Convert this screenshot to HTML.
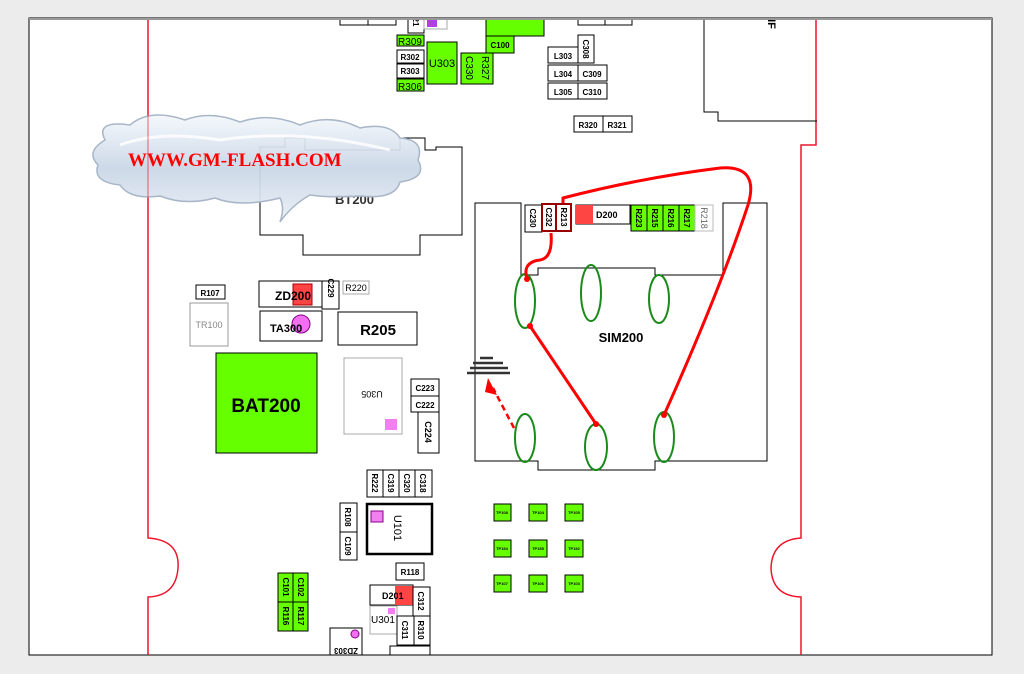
<!DOCTYPE html>
<html><head><meta charset="utf-8"><style>
html,body{margin:0;padding:0;background:#ececec;}
svg{display:block;font-family:"Liberation Sans",sans-serif;}
.b{fill:#fff;stroke:#000;stroke-width:1}
.g{fill:#66ff00;stroke:#000;stroke-width:1}
.t{font-size:8px;font-weight:bold;fill:#000;text-anchor:middle}
</style></head><body>
<svg width="1024" height="674" viewBox="0 0 1024 674" xmlns="http://www.w3.org/2000/svg">
<defs>
<linearGradient id="cl" x1="0" y1="0" x2="0" y2="1">
<stop offset="0" stop-color="#f4f8fc"/><stop offset="0.5" stop-color="#c9d6e6"/><stop offset="1" stop-color="#e9eff6"/>
</linearGradient>
<marker id="ah" markerUnits="userSpaceOnUse" markerWidth="12" markerHeight="12" refX="6" refY="6" orient="auto"><path d="M0,1 L12,6 L0,11 z" fill="#f00"/></marker>
<clipPath id="pg"><rect x="29" y="19" width="963" height="636"/></clipPath>
</defs>
<rect x="0" y="0" width="1024" height="674" fill="#ececec"/>
<rect x="29" y="18" width="963" height="637" fill="#fff" stroke="#000" stroke-width="1"/>
<g clip-path="url(#pg)">
<!-- red outline -->
<path d="M148,18 V538 Q180,540 178,568 Q176,596 148,597 V655" fill="none" stroke="#f0142d" stroke-width="1.5"/>
<path d="M816,18 V145 H801 V538 Q772,540 771,568 Q772,596 801,597 V655" fill="none" stroke="#f0142d" stroke-width="1.5"/>
<!-- top components -->
<rect class="b" x="340" y="10" width="28" height="15"/><rect class="b" x="368" y="10" width="28" height="15"/>
<rect class="b" x="408" y="14" width="16" height="19"/><text class="t" transform="translate(413,22) rotate(90)">21</text>
<rect x="424" y="14" width="23" height="15" fill="#fff" stroke="#aaa"/><rect x="427" y="17" width="10" height="10" fill="#b040e0"/>
<rect class="g" x="486" y="10" width="58" height="26"/>
<rect class="g" x="486" y="36" width="28" height="17"/><text class="t" x="500" y="48">C100</text>
<rect class="g" x="397" y="35" width="27" height="11"/><text class="t" x="410" y="45" style="font-weight:normal;font-size:10px">R309</text>
<rect class="b" x="397" y="50" width="27" height="13"/><text class="t" x="410" y="60">R302</text>
<rect class="b" x="397" y="64" width="27" height="14"/><text class="t" x="410" y="74">R303</text>
<rect class="g" x="397" y="79" width="27" height="12"/><text class="t" x="410" y="90" style="font-weight:normal;font-size:10px">R306</text>
<rect class="g" x="427" y="42" width="30" height="42"/><text class="t" x="442" y="67" style="font-size:11px;font-weight:normal">U303</text>
<rect class="g" x="461" y="53" width="32" height="31"/>
<text class="t" transform="translate(466,68) rotate(90)" style="font-size:10px;font-weight:normal">C330</text>
<text class="t" transform="translate(482,68) rotate(90)" style="font-size:10px;font-weight:normal">R327</text>
<rect class="b" x="578" y="10" width="27" height="15"/><rect class="b" x="605" y="10" width="27" height="15"/>
<rect class="b" x="548" y="47" width="30" height="16"/><text class="t" x="563" y="59">L303</text>
<rect class="b" x="578" y="35" width="16" height="28"/><text class="t" transform="translate(583,49) rotate(90)">C308</text>
<rect class="b" x="548" y="65" width="30" height="16"/><text class="t" x="563" y="77">L304</text>
<rect class="b" x="578" y="65" width="29" height="16"/><text class="t" x="592" y="77">C309</text>
<rect class="b" x="548" y="83" width="30" height="16"/><text class="t" x="563" y="95">L305</text>
<rect class="b" x="578" y="83" width="29" height="16"/><text class="t" x="592" y="95">C310</text>
<rect class="b" x="574" y="116" width="29" height="16"/><text class="t" x="588" y="128">R320</text>
<rect class="b" x="603" y="116" width="29" height="16"/><text class="t" x="617" y="128">R321</text>
<path d="M704,18 V112 H718 V121 H817" fill="none" stroke="#000"/>
<text class="t" transform="translate(768,24) rotate(90)" style="font-size:11px">IF</text>
</g>
<line x1="29" y1="19" x2="992" y2="19" stroke="#999" stroke-width="2"/>
<!-- BT200 connector -->
<path d="M260,147 H285 V138 H305 V150 H400 V138 H425 V150 H436 V147 H462 V235 H420 V255 H303 V235 H260 Z" fill="none" stroke="#000"/>
<text x="335" y="204" style="font-size:13px;font-weight:bold;fill:#333">BT200</text>
<!-- cloud -->
<g>
<path d="M105,140 Q95,120 130,125 Q150,108 185,120 Q210,110 240,122 Q270,112 300,125 Q330,113 360,128 Q390,122 400,138 Q425,140 418,160 Q428,178 400,182 Q395,200 360,196 Q330,198 310,195 Q292,205 280,222 Q285,208 280,198 Q240,208 215,198 Q185,206 160,196 Q130,200 120,185 Q92,182 98,165 Q85,152 105,140 Z" fill="url(#cl)" fill-opacity="0.93" stroke="#a8b6c8" stroke-width="1.5"/>
<path d="M120,145 Q160,130 220,140 Q300,128 390,150" fill="none" stroke="#fff" stroke-width="3" opacity="0.8"/>
</g>
<line x1="148" y1="112" x2="148" y2="220" stroke="#f0142d" stroke-width="1" opacity="0.6"/>
<text x="128" y="166" style="font-family:'Liberation Serif',serif;font-size:19px;font-weight:bold;fill:#f00">WWW.GM-FLASH.COM</text>
<!-- left middle -->
<rect class="b" x="196" y="285" width="29" height="14"/><text class="t" x="210" y="296">R107</text>
<rect x="190" y="303" width="38" height="43" fill="#fff" stroke="#999"/><text x="209" y="328" style="font-size:9px;fill:#888;text-anchor:middle">TR100</text>
<rect class="b" x="259" y="281" width="63" height="26"/><rect x="293" y="284" width="19" height="21" fill="#f44" stroke="#a00"/>
<text x="275" y="300" style="font-size:12px;font-weight:bold">ZD200</text>
<rect class="b" x="322" y="281" width="17" height="28"/><text class="t" transform="translate(328,288) rotate(90)">C229</text>
<rect x="343" y="281" width="26" height="13" fill="#fff" stroke="#aaa"/><text x="356" y="291" style="font-size:9px;text-anchor:middle">R220</text>
<rect class="b" x="260" y="311" width="62" height="30"/><circle cx="301" cy="324" r="9" fill="#f070f0" stroke="#808"/>
<text x="270" y="332" style="font-size:11px;font-weight:bold">TA300</text>
<rect class="b" x="338" y="312" width="79" height="33"/><text x="378" y="335" style="font-size:15px;font-weight:bold;text-anchor:middle">R205</text>
<rect class="g" x="216" y="353" width="101" height="100"/><text x="266" y="412" style="font-size:19px;font-weight:bold;text-anchor:middle">BAT200</text>
<rect x="344" y="358" width="58" height="76" fill="#fff" stroke="#aaa"/><rect x="385" y="419" width="12" height="11" fill="#f080f0"/>
<text transform="translate(372,391) rotate(180)" style="font-size:9px;text-anchor:middle">U305</text>
<rect class="b" x="411" y="379" width="28" height="17"/><text class="t" x="425" y="391">C223</text>
<rect class="b" x="411" y="396" width="28" height="16"/><text class="t" x="425" y="408">C222</text>
<rect class="b" x="418" y="412" width="21" height="41"/><text class="t" transform="translate(425,432) rotate(90)" style="font-size:9px">C224</text>
<!-- SIM area -->
<path d="M475,203 H521 V275 H538 V268 H655 V275 H723 V203 H767 V461 H655 V470 H538 V461 H475 Z" fill="none" stroke="#000"/>
<rect class="b" x="525" y="205" width="17" height="27"/><text class="t" transform="translate(530,218) rotate(90)">C230</text>
<rect x="542" y="204" width="14" height="27" fill="#fff" stroke="#900" stroke-width="2"/><text class="t" transform="translate(546,217) rotate(90)">C232</text>
<rect x="556" y="204" width="15" height="27" fill="#fff" stroke="#900" stroke-width="2"/><text class="t" transform="translate(561,217) rotate(90)">R213</text>
<rect class="b" x="576" y="205" width="54" height="19"/><rect x="576" y="205" width="17" height="19" fill="#f44"/>
<text x="596" y="218" style="font-size:9px;font-weight:bold">D200</text>
<rect class="g" x="631" y="205" width="16" height="26"/><rect class="g" x="647" y="205" width="16" height="26"/><rect class="g" x="663" y="205" width="16" height="26"/><rect class="g" x="679" y="205" width="16" height="26"/>
<rect x="695" y="205" width="18" height="26" fill="#fff" stroke="#bbb"/>
<text class="t" transform="translate(636,218) rotate(90)">R223</text><text class="t" transform="translate(652,218) rotate(90)">R215</text>
<text class="t" transform="translate(668,218) rotate(90)">R216</text><text class="t" transform="translate(684,218) rotate(90)">R217</text>
<text transform="translate(701,218) rotate(90)" style="font-size:9px;fill:#666;text-anchor:middle">R218</text>
<g fill="none" stroke="#1a8a1a" stroke-width="2">
<ellipse cx="525" cy="301" rx="10" ry="27"/><ellipse cx="591" cy="293" rx="10" ry="28"/><ellipse cx="659" cy="299" rx="10" ry="24"/>
<ellipse cx="525" cy="438" rx="10" ry="24"/><ellipse cx="596" cy="447" rx="11" ry="23"/><ellipse cx="664" cy="437" rx="10" ry="25"/>
</g>
<text x="621" y="342" style="font-size:13px;font-weight:bold;text-anchor:middle">SIM200</text>
<g stroke="#333" stroke-width="2.5"><line x1="480" y1="358" x2="493" y2="358"/><line x1="473" y1="363" x2="503" y2="363"/><line x1="470" y1="368" x2="508" y2="368"/><line x1="467" y1="373" x2="510" y2="373"/></g>
<g fill="none" stroke="#f00" stroke-width="3">
<path d="M527,279 Q522,262 540,260 Q553,258 551,233"/>
<line x1="530" y1="326" x2="596" y2="424"/>
<path d="M664,415 Q720,290 748,205 Q760,165 720,168 Q640,178 563,198 V203"/>
<line x1="514" y1="428" x2="493" y2="388" stroke-dasharray="6,4" stroke-width="2.5"/>
</g>
<path d="M488,378 L497,395 L485,392 Z" fill="#f00"/>
<g fill="#f00"><circle cx="527" cy="279" r="3"/><circle cx="530" cy="326" r="3"/><circle cx="596" cy="424" r="3"/><circle cx="664" cy="415" r="3"/></g>
<!-- bottom components -->
<rect class="b" x="367" y="470" width="16" height="27"/><rect class="b" x="383" y="470" width="16" height="27"/><rect class="b" x="399" y="470" width="16" height="27"/><rect class="b" x="415" y="470" width="17" height="27"/>
<text class="t" transform="translate(372,483) rotate(90)">R222</text><text class="t" transform="translate(388,483) rotate(90)">C319</text>
<text class="t" transform="translate(404,483) rotate(90)">C320</text><text class="t" transform="translate(420,483) rotate(90)">C318</text>
<rect class="b" x="340" y="503" width="17" height="29"/><rect class="b" x="340" y="532" width="17" height="28"/>
<text class="t" transform="translate(345,517) rotate(90)">R108</text><text class="t" transform="translate(345,546) rotate(90)">C109</text>
<rect x="367" y="504" width="65" height="50" fill="#fff" stroke="#000" stroke-width="2.5"/><rect x="371" y="511" width="12" height="11" fill="#f080f0" stroke="#808"/>
<text transform="translate(394,528) rotate(90)" style="font-size:11px;text-anchor:middle">U101</text>
<rect class="b" x="396" y="563" width="28" height="17"/><text class="t" x="410" y="575">R118</text>
<rect class="b" x="370" y="585" width="43" height="20"/><rect x="395" y="586" width="18" height="19" fill="#f44"/>
<text x="382" y="599" style="font-size:9px;font-weight:bold">D201</text>
<rect class="b" x="413" y="587" width="17" height="29"/><text class="t" transform="translate(418,601) rotate(90)">C312</text>
<rect x="370" y="606" width="27" height="28" fill="#fff" stroke="#aaa"/><rect x="388" y="608" width="7" height="6" fill="#f080f0"/>
<text x="371" y="623" style="font-size:10px">U301</text>
<rect class="b" x="397" y="616" width="17" height="29"/><text class="t" transform="translate(402,630) rotate(90)">C311</text>
<rect class="b" x="414" y="616" width="16" height="29"/><text class="t" transform="translate(418,630) rotate(90)">R310</text>
<rect class="b" x="330" y="628" width="32" height="27"/><circle cx="355" cy="634" r="4" fill="#f070f0" stroke="#808"/>
<text transform="translate(346,648) rotate(180)" style="font-size:8px;font-weight:bold;text-anchor:middle">ZD303</text>
<rect class="b" x="390" y="646" width="40" height="9"/>
<rect class="g" x="278" y="573" width="15" height="29"/><rect class="g" x="293" y="573" width="15" height="29"/>
<rect class="g" x="278" y="602" width="15" height="29"/><rect class="g" x="293" y="602" width="15" height="29"/>
<text class="t" transform="translate(283,587) rotate(90)">C101</text><text class="t" transform="translate(298,587) rotate(90)">C102</text>
<text class="t" transform="translate(283,616) rotate(90)">R116</text><text class="t" transform="translate(298,616) rotate(90)">R117</text>
<g>
<rect class="g" x="494" y="504" width="17" height="17"/><rect class="g" x="529" y="504" width="18" height="17"/><rect class="g" x="565" y="504" width="18" height="17"/>
<rect class="g" x="494" y="540" width="17" height="17"/><rect class="g" x="529" y="540" width="18" height="17"/><rect class="g" x="565" y="540" width="18" height="17"/>
<rect class="g" x="494" y="575" width="17" height="17"/><rect class="g" x="529" y="575" width="18" height="17"/><rect class="g" x="565" y="575" width="18" height="17"/>
</g>
<g style="font-size:4px;font-weight:bold;text-anchor:middle">
<text x="502" y="514">TP108</text><text x="538" y="514">TP104</text><text x="574" y="514">TP105</text>
<text x="502" y="550">TP154</text><text x="538" y="550">TP155</text><text x="574" y="550">TP152</text>
<text x="502" y="585">TP107</text><text x="538" y="585">TP106</text><text x="574" y="585">TP103</text>
</g>
</svg>
</body></html>
